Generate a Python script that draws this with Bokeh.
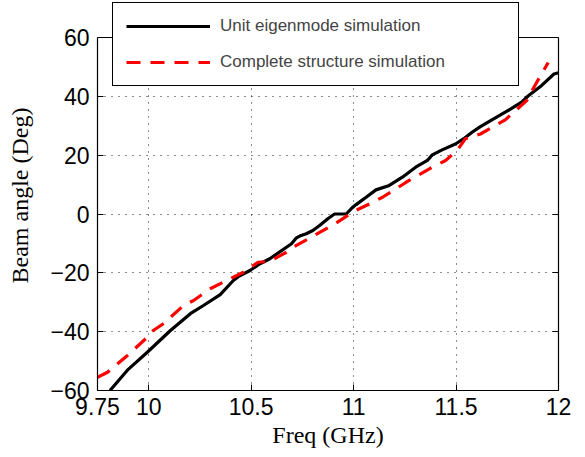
from bokeh.plotting import figure
from bokeh.models import (Range1d, FixedTicker, LinearAxis, Legend, LegendItem,
                          CustomJSTickFormatter, Grid, Span)
from bokeh.embed import file_html
from bokeh.resources import INLINE

# ---- data ----
unit_freq = [9.811, 9.90, 9.993, 10.106, 10.203, 10.267, 10.349, 10.413, 10.437,
             10.494, 10.543, 10.591, 10.697, 10.721, 10.737, 10.769, 10.801, 10.834,
             10.874, 10.907, 10.964, 10.996, 11.012, 11.061, 11.109, 11.174, 11.238,
             11.303, 11.360, 11.384, 11.432, 11.497, 11.538, 11.578, 11.619, 11.675,
             11.74, 11.82, 11.853, 11.918, 11.978, 12.0]
unit_angle = [-60, -52.8, -47.0, -39.6, -33.9, -31.1, -27.4, -22.6, -21.3,
              -19.2, -16.9, -15.2, -10.1, -8.1, -7.5, -6.7, -5.6, -3.9,
              -1.6, 0.0, 0.0, 2.3, 3.2, 5.7, 8.2, 9.7, 12.5,
              15.9, 18.2, 20.1, 21.8, 23.8, 25.6, 27.8, 29.7, 32.0,
              34.6, 38.0, 40.2, 43.7, 47.6, 48.0]

full_freq = [9.75, 9.799, 9.896, 9.993, 10.009, 10.082, 10.106, 10.17, 10.219, 10.3,
             10.397, 10.462, 10.534, 10.591, 10.672, 10.704, 10.785, 10.907, 11.004,
             11.085, 11.141, 11.271, 11.384, 11.449, 11.505, 11.546, 11.619, 11.74,
             11.845, 11.889, 11.95]
full_angle = [-55.5, -53.8, -48.1, -41.9, -40.2, -36.8, -35.1, -31.1, -29.4, -25.4,
              -22.0, -19.8, -16.4, -16.1, -13.0, -11.3, -8.2, -3.4, 1.0,
              3.7, 5.7, 11.4, 15.9, 18.2, 21.6, 25.6, 27.2, 32.0,
              38.6, 44.2, 51.5]

x_ticks = [9.75, 10, 10.5, 11, 11.5, 12]
y_ticks = [-60, -40, -20, 0, 20, 40, 60]
x_grid = [10, 10.5, 11, 11.5]
y_grid = [-40, -20, 0, 20, 40]
series_names = ["Unit eigenmode simulation", "Complete structure simulation"]

TICK_FONT = "Liberation Sans"
LABEL_FONT = "Liberation Serif"

# The frame is extended up to the top of the canvas so the legend (which in the
# original overlaps the top border) is not clipped; the visible box stops at 60.
FRAME_H = 390          # px from canvas top to x axis
BOX_H = 353            # px between -60 and 60
y_top = y_ticks[0] + (y_ticks[-1] - y_ticks[0]) * FRAME_H / BOX_H

p = figure(width=585, height=457, output_backend="svg", toolbar_location=None,
           x_range=Range1d(x_ticks[0], x_ticks[-1]), y_range=Range1d(y_ticks[0], y_top),
           min_border_left=97, min_border_right=27, min_border_top=0,
           min_border_bottom=67, background_fill_color="white",
           border_fill_color="white", x_axis_type=None, y_axis_type=None)
p.outline_line_color = None

fmt_x = CustomJSTickFormatter(code="return String(tick);")
fmt_y = CustomJSTickFormatter(code="return tick < 0 ? '\\u2212' + String(Math.abs(tick)) : String(tick);")
fmt_none = CustomJSTickFormatter(code="return '';")

def style_axis(ax):
    ax.axis_line_color = "black"
    ax.axis_line_width = 1.2
    ax.major_tick_line_color = "black"
    ax.major_tick_in = 6
    ax.major_tick_out = 0
    ax.minor_tick_line_color = None
    ax.major_label_text_font = TICK_FONT
    ax.major_label_text_color = "black"
    ax.major_label_text_font_size = "23px"
    ax.axis_label_text_font = LABEL_FONT
    ax.axis_label_text_font_style = "normal"
    ax.axis_label_text_font_size = "24px"
    ax.axis_label_text_color = "black"

xb = LinearAxis(ticker=FixedTicker(ticks=x_ticks), formatter=fmt_x, axis_label="Freq (GHz)")
style_axis(xb)
xb.major_label_standoff = 7
xb.axis_label_standoff = 4
p.add_layout(xb, "below")

yl = LinearAxis(ticker=FixedTicker(ticks=y_ticks), formatter=fmt_y,
                axis_label="Beam angle (Deg)", bounds=(y_ticks[0], y_ticks[-1]))
style_axis(yl)
yl.major_label_standoff = 8
yl.axis_label_standoff = 14
p.add_layout(yl, "left")

yr = LinearAxis(ticker=FixedTicker(ticks=y_ticks), formatter=fmt_none,
                bounds=(y_ticks[0], y_ticks[-1]))
style_axis(yr)
p.add_layout(yr, "right")

gx = Grid(dimension=0, ticker=FixedTicker(ticks=x_grid))
gy = Grid(dimension=1, ticker=FixedTicker(ticks=y_grid))
for g in (gx, gy):
    g.grid_line_color = "black"
    g.grid_line_dash = "1 6"
    g.grid_line_width = 1
    g.grid_line_alpha = 0.9
    p.add_layout(g)

top_edge = Span(location=y_ticks[-1], dimension="width", line_color="black", line_width=1.2)
p.add_layout(top_edge)

r1 = p.line(unit_freq, unit_angle, line_color="black", line_width=3.2)
r2 = p.line(full_freq, full_angle, line_color="red", line_width=3.2, line_dash="14 10")

legend = Legend(items=[LegendItem(label=series_names[0], renderers=[r1]),
                       LegendItem(label=series_names[1], renderers=[r2])],
                location=(15, 304), padding=13, spacing=16, glyph_width=84,
                glyph_height=20, label_height=20, label_width=285, label_standoff=10,
                label_text_font=TICK_FONT, label_text_font_size="17px",
                border_line_color="black", border_line_width=1.5, border_line_alpha=1.0,
                background_fill_color="white", background_fill_alpha=1.0, margin=0)
p.add_layout(legend, "center")

open("out.html", "w").write(file_html(p, INLINE))
